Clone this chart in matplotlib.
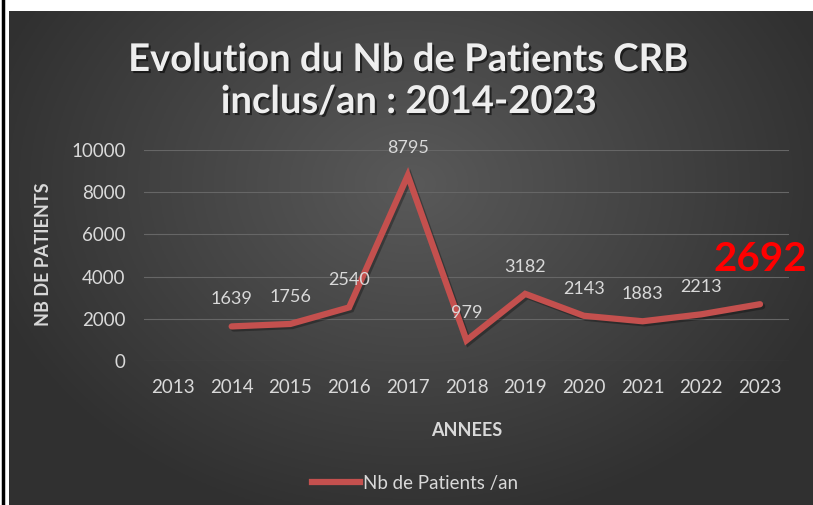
import matplotlib
matplotlib.use("Agg")
import matplotlib.pyplot as plt
import matplotlib.patheffects as pe
from matplotlib.lines import Line2D
import numpy as np

years = ["2013", "2014", "2015", "2016", "2017", "2018", "2019", "2020", "2021", "2022", "2023"]
patients = [np.nan, 1639, 1756, 2540, 8795, 979, 3182, 2143, 1883, 2213, 2692]
highlight_year = "2023"

plt.rcParams["font.family"] = ["Lato", "DejaVu Sans"]

W, H = 813, 505
fig = plt.figure(figsize=(W / 100, H / 100), dpi=100, facecolor="white")

# dark radial background (Excel style chart area)
bg = fig.add_axes([9 / W, 0, 1 - 9 / W, 1 - 11 / H])
gx, gy = np.meshgrid(np.linspace(-1, 1, 400), np.linspace(-1, 1, 250))
r = np.clip(np.sqrt((gx / 1.1) ** 2 + ((gy + 0.3) / 1.4) ** 2), 0, 1)
light, dark = np.array([0.35, 0.35, 0.35]), np.array([0.19, 0.19, 0.19])
img = light[None, None, :] * (1 - r[..., None]) + dark[None, None, :] * r[..., None]
bg.imshow(img, aspect="auto", extent=[0, 1, 0, 1], origin="upper")
bg.set_axis_off()

# left black border line
fig.add_artist(Line2D([3 / W, 3 / W], [0, 1], color="black", lw=2.5))

txt = "#d9d9d9"
red = "#c4504e"
ax = fig.add_axes([143.6 / W, 1 - 361 / H, (789.4 - 143.6) / W, 211 / H])
ax.patch.set_alpha(0)
x = np.arange(len(years))
ax.plot(x, patients, color=red, lw=4.5, solid_capstyle="round",
        solid_joinstyle="miter",
        path_effects=[pe.SimpleLineShadow(offset=(1.5, -1.5), alpha=0.3), pe.Normal()],
        zorder=3)

for xi, v, yr in zip(x, patients, years):
    if np.isnan(v):
        continue
    if yr == highlight_year:
        ax.annotate(f"{int(v)}", (xi, v), xytext=(0, 45), textcoords="offset pixels",
                    ha="center", va="center", fontsize=29, fontweight="bold", color="#ff0000")
    else:
        ax.annotate(f"{int(v)}", (xi, v), xytext=(0, 27), textcoords="offset pixels",
                    ha="center", va="center", fontsize=13, color=txt)

ax.set_xlim(-0.5, len(years) - 0.5)
ax.set_ylim(0, 10000)
ax.set_yticks(np.arange(0, 10001, 2000))
ax.set_xticks(x)
ax.set_xticklabels(years)
ax.grid(axis="y", color="#666666", lw=0.8)
ax.set_axisbelow(True)
for s in ax.spines.values():
    s.set_visible(False)
ax.tick_params(length=0, colors=txt, labelsize=13.5)
ax.tick_params(axis="y", pad=13)
ax.tick_params(axis="x", pad=13)

ax.set_ylabel("NB DE PATIENTS", color=txt, fontsize=13, fontweight="bold")
ax.yaxis.set_label_coords(-0.142, 0.507)
ax.set_xlabel("ANNEES", color=txt, fontsize=13, fontweight="bold")
ax.xaxis.set_label_coords(0.5, -0.289)

shadow = [pe.withSimplePatchShadow(offset=(1.5, -1.5), shadow_rgbFace="black", alpha=0.55)]
fig.text(409 / W, 1 - 60 / H, "Evolution du Nb de Patients CRB", ha="center", va="center",
         fontsize=27.5, fontweight="bold", color="#eeeeee", path_effects=shadow)
fig.text(409 / W, 1 - 102 / H, "inclus/an : 2014-2023", ha="center", va="center",
         fontsize=27.5, fontweight="bold", color="#eeeeee", path_effects=shadow)

handle = Line2D([], [], color=red, lw=4.5)
fig.legend([handle], ["Nb de Patients /an"], loc="center", bbox_to_anchor=(415 / W, 1 - 483 / H),
           frameon=False, fontsize=13.5, labelcolor=txt, handlelength=2.6, handletextpad=0.15)

fig.savefig("out.png", dpi=100, facecolor=fig.get_facecolor())
